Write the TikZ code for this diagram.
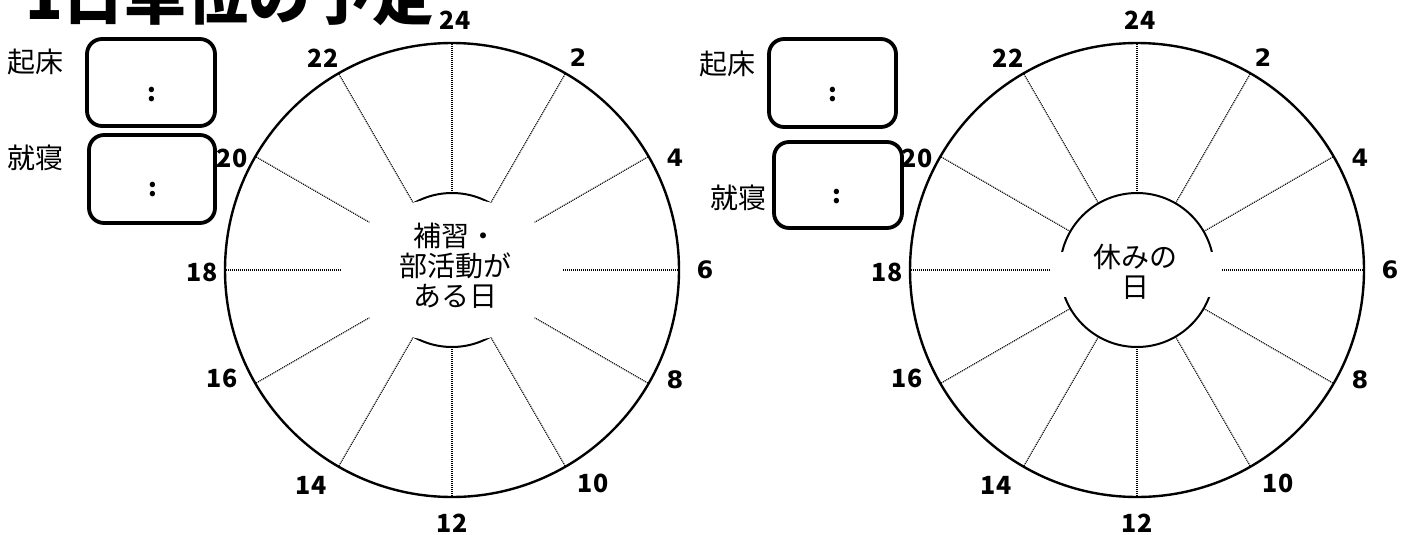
\documentclass[tikz,border=0pt]{standalone}
\usepackage{fontspec}
\setmainfont{Noto Sans CJK JP}
\newfontfamily\numfont{DejaVu Sans}
\begin{document}
\begin{tikzpicture}[x=1pt,y=-1pt,
  dial/.style={draw, line width=2.4pt, circle, inner sep=0pt, minimum size=454pt},
  hub/.style={draw, line width=2pt, circle, inner sep=0pt, minimum size=154pt},
  tick/.style={line width=1.1pt, dash pattern=on 1.1pt off 0.9pt},
  hour/.style={font=\bfseries\fontsize{25}{25}\selectfont, inner sep=0pt},
  hourw/.style={font=\numfont\bfseries\fontsize{24}{24}\selectfont, inner sep=0pt},
  timebox/.style={draw, line width=3.8pt, rounded corners=15pt, inner sep=0pt},
  lbl/.style={font=\fontsize{28}{28}\selectfont, inner sep=0pt},
  colon/.style={font=\bfseries\fontsize{25}{25}\selectfont, inner sep=0pt},
  centre/.style={align=center, font=\fontsize{28}{30}\selectfont, inner sep=0pt}
]
\useasboundingbox (0,0) rectangle (1408,535);
\fill[white] (0,0) rectangle (1408,535);

% title
\node[anchor=base west, inner sep=0pt, font=\bfseries\fontsize{62}{62}\selectfont] (title) at (25,20) {1日単位の予定};

% ---------- left clock ----------
\coordinate (L) at (452,270);
\foreach \a in {0,30,...,330}
  \draw[tick] ([shift={(\a:77pt)}]L) -- ([shift={(\a:226pt)}]L);
\node[hub] (Lhub) at (L) {};
\fill[white] (L) ellipse [x radius=110pt, y radius=72pt];
\node[dial] (Ldial) at (L) {};
\node[centre] (Ltext) at (455,266) {補習・\\部活動が\\ある日};

\node[hour]  (L24) at (455,20) {24};
\node[hourw] (L2)  at (578,58) {2};
\node[hourw] (L4)  at (675,158) {4};
\node[hourw] (L6)  at (705,270) {6};
\node[hourw] (L8)  at (675,380) {8};
\node[hour]  (L10) at (593,483) {10};
\node[hour]  (L12) at (452,523) {12};
\node[hour]  (L14) at (311,485) {14};
\node[hour]  (L16) at (222,378) {16};
\node[hour]  (L18) at (202,272) {18};
\node[hour]  (L20) at (232,158) {20};
\node[hour]  (L22) at (323,58) {22};

\node[lbl] (Lwake) at (35,62) {起床};
\node[lbl] (Lsleep) at (35,158) {就寝};
\node[timebox, minimum width=128pt, minimum height=87pt] (Lbox1) at (151,82.5) {};
\node[timebox, minimum width=126pt, minimum height=88pt] (Lbox2) at (152,179) {};
\node[colon] (Lc1) at (152,95) {:};
\node[colon] (Lc2) at (153,190) {:};

% ---------- right clock ----------
\coordinate (R) at (1137,270);
\foreach \a in {0,30,...,330}
  \draw[tick] ([shift={(\a:77pt)}]R) -- ([shift={(\a:226pt)}]R);
\node[hub] (Rhub) at (R) {};
\fill[white] (1050,252) rectangle (1222,297);
\node[dial] (Rdial) at (R) {};
\node[centre] (Rtext) at (1135,272) {休みの\\日};

\node[hour]  (R24) at (1140,20) {24};
\node[hourw] (R2)  at (1263,58) {2};
\node[hourw] (R4)  at (1360,158) {4};
\node[hourw] (R6)  at (1390,270) {6};
\node[hourw] (R8)  at (1360,380) {8};
\node[hour]  (R10) at (1278,483) {10};
\node[hour]  (R12) at (1137,523) {12};
\node[hour]  (R14) at (996,485) {14};
\node[hour]  (R16) at (907,378) {16};
\node[hour]  (R18) at (887,272) {18};
\node[hour]  (R20) at (917,158) {20};
\node[hour]  (R22) at (1008,58) {22};

\node[lbl] (Rwake) at (727,64) {起床};
\node[lbl] (Rsleep) at (738,198) {就寝};
\node[timebox, minimum width=127pt, minimum height=88pt] (Rbox1) at (832.5,83) {};
\node[timebox, minimum width=128pt, minimum height=86pt] (Rbox2) at (838,185) {};
\node[colon] (Rc1) at (833,95) {:};
\node[colon] (Rc2) at (837,197) {:};
\end{tikzpicture}
\end{document}
